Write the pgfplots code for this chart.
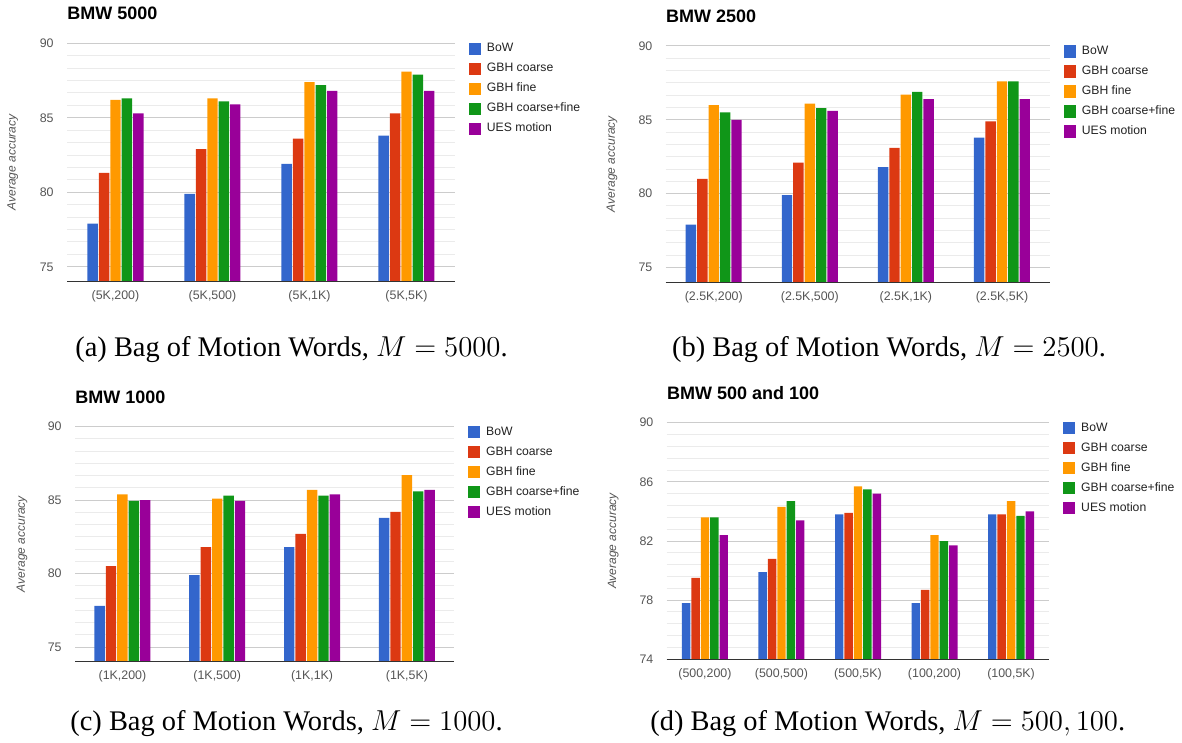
\documentclass[border=0pt]{standalone}
\usepackage{fontspec}
\setmainfont{Liberation Serif}
\newfontfamily\chartfont{Liberation Sans}
\usepackage{pgfplots}
\pgfplotsset{compat=1.18}
\definecolor{cBoW}{HTML}{3366CC}
\definecolor{cGc}{HTML}{DC3912}
\definecolor{cGf}{HTML}{FF9900}
\definecolor{cGcf}{HTML}{109618}
\definecolor{cUES}{HTML}{990099}
\definecolor{gridmajor}{HTML}{CCCCCC}
\definecolor{gridminor}{HTML}{EBEBEB}
\definecolor{axisdark}{HTML}{333333}
\definecolor{ticktext}{HTML}{555555}
\definecolor{legtext}{HTML}{222222}
\pgfplotsset{
  bmw/.style={
    scale only axis,
    ymin=74, ymax=90,
    ybar=0.5pt, bar width=5.2pt,
    clip mode=individual,
    axis line style={draw=none},
    major tick length=0pt, minor tick length=0pt,
    ymajorgrids, yminorgrids,
    major grid style={draw=gridmajor, line width=0.5pt},
    minor grid style={draw=gridminor, line width=0.5pt},
    /pgf/number format/assume math mode=true,
    tick label style={font=\chartfont\fontsize{6.2}{7}\selectfont, text=ticktext},
    yticklabel style={anchor=east, inner sep=0pt, xshift=-6.5pt},
    xticklabel style={anchor=center, inner sep=0pt, yshift=-7.5pt},
    ylabel={Average accuracy},
    ylabel style={at={(axis description cs:-0.14,0.5)}, anchor=center, font=\chartfont\itshape\fontsize{6}{7}\selectfont, text=ticktext},
    every axis title shift=0pt,
    title style={at={(axis description cs:0,1)}, anchor=base west, yshift=11.7pt, inner sep=0pt, font=\chartfont\bfseries\fontsize{9}{10}\selectfont},
    legend style={at={(1,1)}, anchor=north west, xshift=6.6pt, yshift=0.5pt, draw=none, fill=none, inner sep=0pt, font=\chartfont\fontsize{6.1}{7}\selectfont, text=legtext, row sep=3.85pt, column sep=3pt, nodes={inner sep=0pt, text height=4.5pt, text depth=1.5pt}},
    legend cell align=left,
    legend image code/.code={\fill[##1] (0pt,-3.07pt) rectangle (6.15pt,3.07pt);},
    every axis plot/.append style={draw=none},
  },
}
\begin{document}
\begin{tikzpicture}
\useasboundingbox (0,0) rectangle (591pt,-371.5pt);
% (a)
\begin{axis}[bmw, at={(33.5pt,-140.85pt)}, anchor=south west, width=194pt, height=119.2pt,
  title={BMW 5000}, xmin=-0.5, xmax=3.5, xtick={0,1,2,3},
  xticklabels={{(5K,200)},{(5K,500)},{(5K,1K)},{(5K,5K)}},
  ytick={75,80,85,90}, minor y tick num=5]
\addplot[fill=cBoW] coordinates {(0,77.9) (1,79.9) (2,81.9) (3,83.8)};
\addplot[fill=cGc]  coordinates {(0,81.3) (1,82.9) (2,83.6) (3,85.3)};
\addplot[fill=cGf]  coordinates {(0,86.2) (1,86.3) (2,87.4) (3,88.1)};
\addplot[fill=cGcf] coordinates {(0,86.3) (1,86.1) (2,87.2) (3,87.9)};
\addplot[fill=cUES] coordinates {(0,85.3) (1,85.9) (2,86.8) (3,86.8)};
\legend{BoW, GBH coarse, GBH fine, GBH coarse+fine, UES motion}
\draw[axisdark, line width=0.6pt] (rel axis cs:0,0) -- (rel axis cs:1,0);
\end{axis}
% (b)
\begin{axis}[bmw, at={(332.85pt,-141.15pt)}, anchor=south west, width=192.15pt, height=118.15pt,
  title={BMW 2500}, xmin=-0.5, xmax=3.5, xtick={0,1,2,3},
  xticklabels={{(2.5K,200)},{(2.5K,500)},{(2.5K,1K)},{(2.5K,5K)}},
  ytick={75,80,85,90}, minor y tick num=5]
\addplot[fill=cBoW] coordinates {(0,77.9) (1,79.9) (2,81.8) (3,83.8)};
\addplot[fill=cGc]  coordinates {(0,81.0) (1,82.1) (2,83.1) (3,84.9)};
\addplot[fill=cGf]  coordinates {(0,86.0) (1,86.1) (2,86.7) (3,87.6)};
\addplot[fill=cGcf] coordinates {(0,85.5) (1,85.8) (2,86.9) (3,87.6)};
\addplot[fill=cUES] coordinates {(0,85.0) (1,85.6) (2,86.4) (3,86.4)};
\legend{BoW, GBH coarse, GBH fine, GBH coarse+fine, UES motion}
\draw[axisdark, line width=0.6pt] (rel axis cs:0,0) -- (rel axis cs:1,0);
\end{axis}
% (c)
\begin{axis}[bmw, at={(37.5pt,-330.85pt)}, anchor=south west, width=189.65pt, height=117.5pt,
  title={BMW 1000}, xmin=-0.5, xmax=3.5, xtick={0,1,2,3},
  xticklabels={{(1K,200)},{(1K,500)},{(1K,1K)},{(1K,5K)}},
  ytick={75,80,85,90}, minor y tick num=5]
\addplot[fill=cBoW] coordinates {(0,77.8) (1,79.9) (2,81.8) (3,83.8)};
\addplot[fill=cGc]  coordinates {(0,80.5) (1,81.8) (2,82.7) (3,84.2)};
\addplot[fill=cGf]  coordinates {(0,85.4) (1,85.1) (2,85.7) (3,86.7)};
\addplot[fill=cGcf] coordinates {(0,84.95) (1,85.3) (2,85.3) (3,85.6)};
\addplot[fill=cUES] coordinates {(0,85.0) (1,84.95) (2,85.4) (3,85.7)};
\legend{BoW, GBH coarse, GBH fine, GBH coarse+fine, UES motion}
\draw[axisdark, line width=0.6pt] (rel axis cs:0,0) -- (rel axis cs:1,0);
\end{axis}
% (d)
\begin{axis}[bmw, at={(333.35pt,-329.65pt)}, anchor=south west, width=191.3pt, height=118.3pt,
  bar width=4.2pt,
  title={BMW 500 and 100}, xmin=-0.5, xmax=4.5, xtick={0,1,2,3,4},
  xticklabels={{(500,200)},{(500,500)},{(500,5K)},{(100,200)},{(100,5K)}},
  ytick={74,78,82,86,90}, minor y tick num=4]
\addplot[fill=cBoW] coordinates {(0,77.8) (1,79.9) (2,83.8) (3,77.8) (4,83.8)};
\addplot[fill=cGc]  coordinates {(0,79.5) (1,80.8) (2,83.9) (3,78.7) (4,83.8)};
\addplot[fill=cGf]  coordinates {(0,83.6) (1,84.3) (2,85.7) (3,82.4) (4,84.7)};
\addplot[fill=cGcf] coordinates {(0,83.6) (1,84.7) (2,85.5) (3,82.0) (4,83.7)};
\addplot[fill=cUES] coordinates {(0,82.4) (1,83.4) (2,85.2) (3,81.7) (4,84.0)};
\legend{BoW, GBH coarse, GBH fine, GBH coarse+fine, UES motion}
\draw[axisdark, line width=0.6pt] (rel axis cs:0,0) -- (rel axis cs:1,0);
\end{axis}
% captions
\node[anchor=base west, inner sep=0pt, font=\fontsize{14.2}{16}\selectfont] at (37.5pt,-178pt) {(a) Bag of Motion Words, $M = 5000$.};
\node[anchor=base west, inner sep=0pt, font=\fontsize{14.2}{16}\selectfont] at (335.85pt,-178pt) {(b) Bag of Motion Words, $M = 2500$.};
\node[anchor=base west, inner sep=0pt, font=\fontsize{14.2}{16}\selectfont] at (35pt,-365pt) {(c) Bag of Motion Words, $M = 1000$.};
\node[anchor=base west, inner sep=0pt, font=\fontsize{14.2}{16}\selectfont] at (325pt,-365pt) {(d) Bag of Motion Words, $M = 500, 100$.};
\end{tikzpicture}
\end{document}
